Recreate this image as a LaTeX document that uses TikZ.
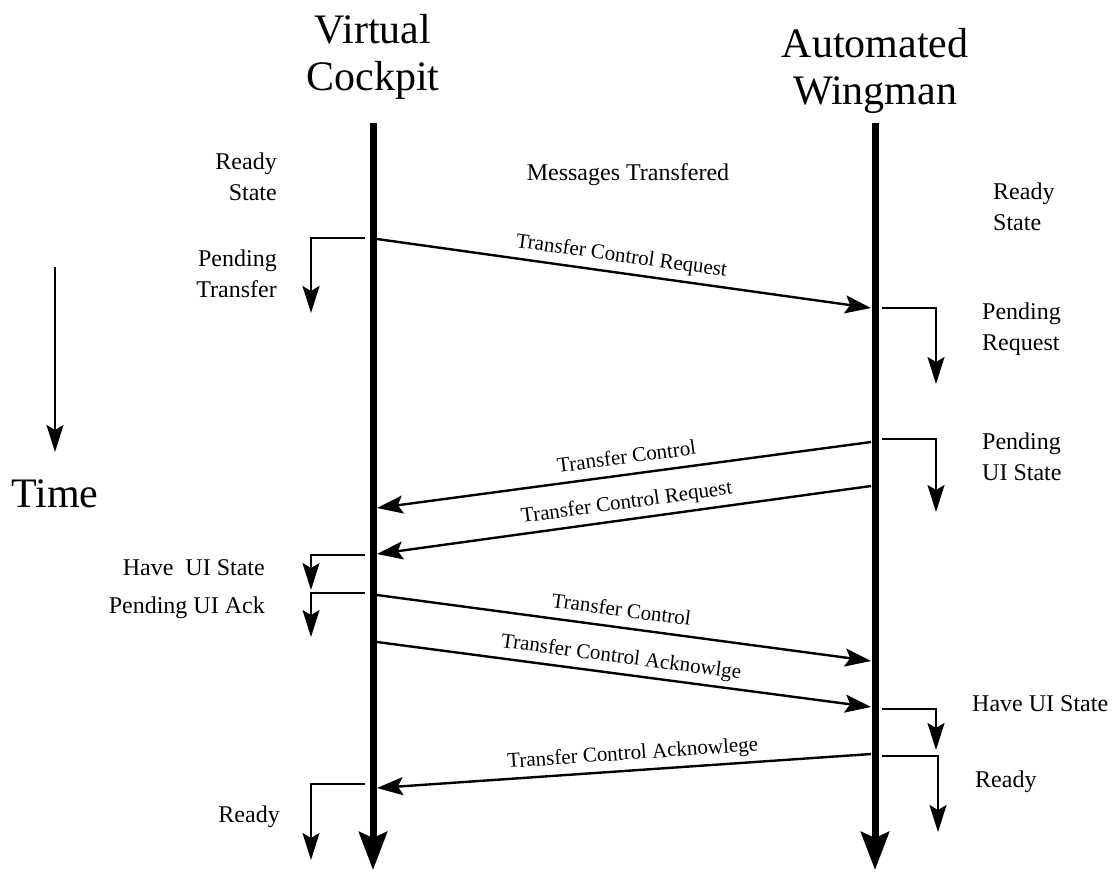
\documentclass[tikz,border=0pt]{standalone}
\usepackage{fontspec}
\setmainfont{Liberation Serif}
\usetikzlibrary{arrows.meta}
\begin{document}
\begin{tikzpicture}[x=1pt,y=-1pt,
  life/.style={line width=7pt, -{Stealth[length=38pt,width=28pt,inset=6pt]}},
  msg/.style={line width=2.4pt, -{Stealth[length=26pt,width=18pt,inset=5pt]}},
  bendarrow/.style={line width=2pt, -{Stealth[length=27pt,width=17pt,inset=5pt]}},
  title/.style={font=\fontsize{42}{47}\selectfont, align=center, inner sep=0pt},
  state/.style={font=\fontsize{24}{31}\selectfont, inner sep=0pt},
  msglabel/.style={font=\fontsize{21}{25}\selectfont, sloped, inner sep=0pt, above=11pt, anchor=base}
]
\useasboundingbox (0,0) rectangle (1115,871);

% titles
\node[title, anchor=base] (vc) at (373,90) {Virtual\\Cockpit};
\node[title, anchor=base] (aw) at (875,104) {Automated\\Wingman};
\node[title, anchor=base] (time) at (55,507) {Time};

% lifelines
\coordinate (Ltop) at (373,123);
\coordinate (Lbot) at (373,870);
\coordinate (Rtop) at (875,123);
\coordinate (Rbot) at (875,870);
\draw[life] (Ltop) -- (Lbot);
\draw[life] (Rtop) -- (Rbot);

% time arrow
\coordinate (T1) at (55,267);
\coordinate (T2) at (55,452);
\draw[bendarrow] (T1) -- (T2);

% header
\node[state, anchor=base] (mt) at (628,180) {Messages Transfered};

% message endpoints
\coordinate (m1a) at (377,239); \coordinate (m1b) at (871,308);
\coordinate (m2a) at (871,442); \coordinate (m2b) at (377,508);
\coordinate (m3a) at (871,486); \coordinate (m3b) at (377,554);
\coordinate (m4a) at (377,595); \coordinate (m4b) at (871,661);
\coordinate (m5a) at (377,642); \coordinate (m5b) at (871,707);
\coordinate (m6a) at (871,754); \coordinate (m6b) at (377,788);

\draw[msg] (m1a) -- node[msglabel, pos=0.49] (l1) {Transfer Control Request} (m1b);
\draw[msg] (m2a) -- node[msglabel, pos=0.49] (l2) {Transfer Control} (m2b);
\draw[msg] (m3a) -- node[msglabel, pos=0.49] (l3) {Transfer Control Request} (m3b);
\draw[msg] (m4a) -- node[msglabel, pos=0.49] (l4) {Transfer Control} (m4b);
\draw[msg] (m5a) -- node[msglabel, pos=0.49] (l5) {Transfer Control Acknowlge} (m5b);
\draw[msg] (m6a) -- node[msglabel, pos=0.48] (l6) {Transfer Control Acknowlege} (m6b);

% state change arrows, left
\coordinate (a1s) at (365,238); \coordinate (a1e) at (311,313);
\coordinate (a2s) at (365,555); \coordinate (a2e) at (311,590);
\coordinate (a3s) at (365,593); \coordinate (a3e) at (311,637);
\coordinate (a4s) at (365,784); \coordinate (a4e) at (311,860);
\draw[bendarrow] (a1s) -| (a1e);
\draw[bendarrow] (a2s) -| (a2e);
\draw[bendarrow] (a3s) -| (a3e);
\draw[bendarrow] (a4s) -| (a4e);

% state change arrows, right
\coordinate (b1s) at (882,308); \coordinate (b1e) at (936,384);
\coordinate (b2s) at (882,439); \coordinate (b2e) at (936,512);
\coordinate (b3s) at (882,709); \coordinate (b3e) at (936,750);
\coordinate (b4s) at (882,756); \coordinate (b4e) at (938,832);
\draw[bendarrow] (b1s) -| (b1e);
\draw[bendarrow] (b2s) -| (b2e);
\draw[bendarrow] (b3s) -| (b3e);
\draw[bendarrow] (b4s) -| (b4e);

% state labels, left
\node[state, align=right, anchor=base east] (ls1) at (277,200) {Ready\\State};
\node[state, align=right, anchor=base east] (ls2) at (277,297) {Pending\\Transfer};
\node[state, anchor=base east] (ls3) at (265,575) {Have\ \ UI State};
\node[state, anchor=base east] (ls4) at (265,613) {Pending UI Ack};
\node[state, anchor=base east] (ls5) at (280,822) {Ready};

% state labels, right
\node[state, align=left, anchor=base west] (rs1) at (993,230) {Ready\\State};
\node[state, align=left, anchor=base west] (rs2) at (982,350) {Pending\\Request};
\node[state, align=left, anchor=base west] (rs3) at (982,480) {Pending\\UI State};
\node[state, anchor=base west] (rs4) at (972,711) {Have UI State};
\node[state, anchor=base west] (rs5) at (975,787) {Ready};
\end{tikzpicture}
\end{document}
